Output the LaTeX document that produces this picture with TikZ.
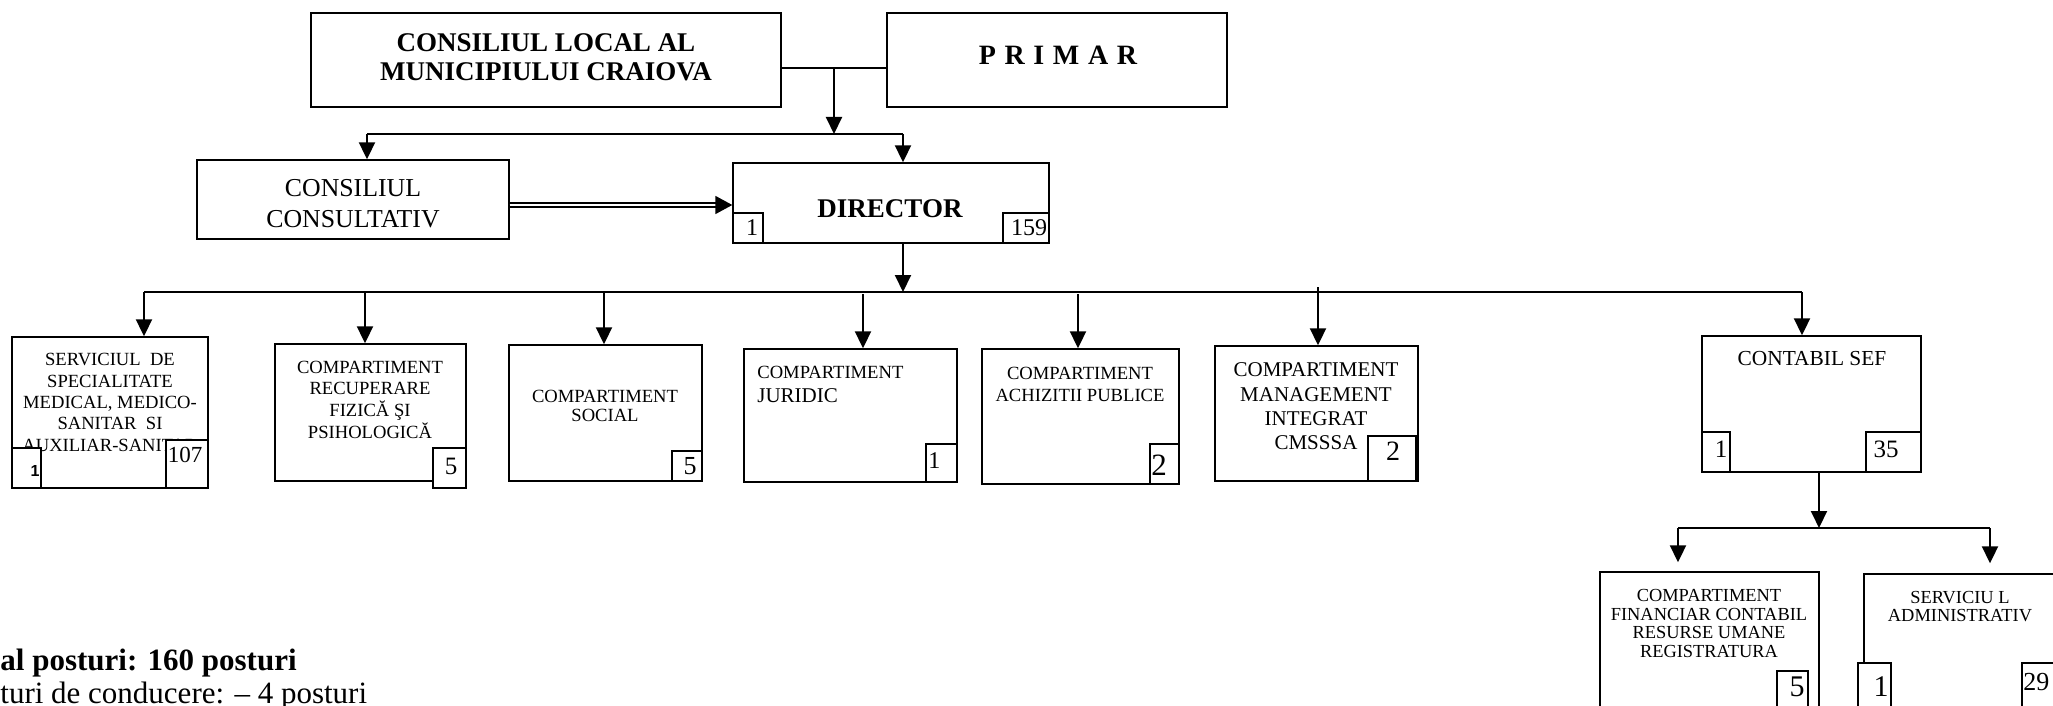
\documentclass[tikz,border=0pt]{standalone}
\usepackage{fontspec}
\setmainfont{Liberation Serif}
\newfontfamily\arialfont{Liberation Sans}
\usetikzlibrary{arrows.meta,fit}
\begin{document}
\begin{tikzpicture}[x=0.5pt,y=-0.5pt]
\tikzset{
  box/.style={draw, line width=0.7pt, inner sep=0pt, fill=white},
  conn/.style={line width=1pt},
  arr/.style={conn, -{Triangle[length=8.5pt,width=8pt]}},
  dbl/.style={line width=0.9pt, double distance=1.4pt, -{Triangle[length=8.5pt,width=9pt]}},
  txt/.style={inner sep=0pt, align=center},
  num/.style={inner sep=0pt},
  fA/.style={font=\fontsize{9.3}{10.7}\selectfont},
}
\useasboundingbox (0,0) rectangle (2053,706);
\clip (0,0) rectangle (2053,706);

% top level
\node[box, fit={(311,13)(781,107)}] (cl) {};
\node[txt, font=\bfseries\fontsize{13.5}{14.5}\selectfont] (clt) at (546,57) {CONSILIUL LOCAL AL\\MUNICIPIULUI CRAIOVA};
\node[box, fit={(887,13)(1227,107)}] (primar) {};
\node[txt, font=\bfseries\fontsize{14}{14}\selectfont] (primart) at (1058,55) {P\hspace{0.31em}R\hspace{0.31em}I\hspace{0.31em}M\hspace{0.31em}A\hspace{0.31em}R};

\node[box, fit={(197,160)(509,239)}] (cons) {};
\node[txt, font=\fontsize{12.9}{15.5}\selectfont] (const) at (353,204) {CONSILIUL\\CONSULTATIV};

\node[box, fit={(733,163)(1049,243)}] (dir) {};
\node[txt, font=\bfseries\fontsize{13.5}{13.5}\selectfont] (dirt) at (890,209) {DIRECTOR};
\node[box, fit={(733,213)(763,243)}] (dira) {};
\node[num, font=\fontsize{12}{12}\selectfont] (dirat) at (752,228) {1};
\node[box, fit={(1003,213)(1049,243)}] (dirb) {};
\node[num, font=\fontsize{12}{12}\selectfont] (dirbt) at (1029,228) {159};

% second row
\node[box, fit={(12,337)(208,488)}] (b1) {};
\node[txt, fA] (b1t) at (110,402.5) {SERVICIUL\ \ DE\\SPECIALITATE\\MEDICAL, MEDICO-\\SANITAR\ \ SI\\AUXILIAR-SANITAR};
\node[box, fit={(12,448)(41,488)}] (b1a) {};
\node[num, font=\arialfont\bfseries\fontsize{8}{8}\selectfont] (b1at) at (35,471) {1};
\node[box, fit={(166,440)(208,488)}] (b1b) {};
\node[num, font=\fontsize{11.5}{11.5}\selectfont] (b1bt) at (185,455) {107};

\node[box, fit={(275,344)(466,481)}] (b2) {};
\node[txt, font=\fontsize{9.3}{10.85}\selectfont] (b2t) at (370,399.5) {COMPARTIMENT\\RECUPERARE\\FIZICĂ ŞI\\PSIHOLOGICĂ};
\node[box, fit={(433,448)(466,488)}] (b2n) {};
\node[num, font=\fontsize{12.5}{12.5}\selectfont] (b2nt) at (451,466) {5};

\node[box, fit={(509,345)(702,481)}] (b3) {};
\node[txt, font=\fontsize{9.3}{9.3}\selectfont] (b3t) at (605,406) {COMPARTIMENT\\SOCIAL};
\node[box, fit={(672,451)(702,481)}] (b3n) {};
\node[num, font=\fontsize{13}{13}\selectfont] (b3nt) at (690,466) {5};

\node[box, fit={(744,349)(957,482)}] (b4) {};
\node[num, anchor=base west, font=\fontsize{9.3}{9.3}\selectfont] (b4t) at (757,378) {COMPARTIMENT};
\node[num, anchor=base west, font=\fontsize{10.5}{10.5}\selectfont] (b4u) at (757,402) {JURIDIC};
\node[box, fit={(926,444)(957,482)}] (b4n) {};
\node[num, anchor=base west, font=\fontsize{12}{12}\selectfont] (b4nt) at (928,468) {1};

\node[box, fit={(982,349)(1179,484)}] (b5) {};
\node[txt, font=\fontsize{9.3}{11}\selectfont] (b5t) at (1080,384) {COMPARTIMENT\\ACHIZITII PUBLICE};
\node[box, fit={(1150,444)(1179,484)}] (b5n) {};
\node[num, anchor=base west, font=\fontsize{15.5}{15.5}\selectfont] (b5nt) at (1151,475) {2};

\node[box, fit={(1215,346)(1418,481)}] (b6) {};
\node[txt, font=\fontsize{10.5}{12.15}\selectfont] (b6t) at (1316,406.5) {COMPARTIMENT\\MANAGEMENT\\INTEGRAT\\CMSSSA};
\node[box, fit={(1368,436)(1416,481)}] (b6n) {};
\node[num, font=\fontsize{14}{14}\selectfont] (b6nt) at (1393,451) {2};

\node[box, fit={(1702,336)(1921,472)}] (b7) {};
\node[txt, font=\fontsize{10.7}{10.7}\selectfont] (b7t) at (1812,359) {CONTABIL SEF};
\node[box, fit={(1702,432)(1730,472)}] (b7a) {};
\node[num, font=\fontsize{12.5}{12.5}\selectfont] (b7at) at (1721,449) {1};
\node[box, fit={(1866,432)(1921,472)}] (b7b) {};
\node[num, font=\fontsize{12.5}{12.5}\selectfont] (b7bt) at (1886,449) {35};

% third row
\node[box, fit={(1600,572)(1819,730)}] (b8) {};
\node[txt, font=\fontsize{9.2}{9.2}\selectfont] (b8t) at (1709,623.5) {COMPARTIMENT\\FINANCIAR CONTABIL\\RESURSE UMANE\\REGISTRATURA};
\node[box, fit={(1777,671)(1808,730)}] (b8n) {};
\node[num, font=\fontsize{15}{15}\selectfont] (b8nt) at (1797,687) {5};

\node[box, fit={(1864,574)(2080,730)}] (b9) {};
\node[txt, font=\fontsize{9.2}{9}\selectfont] (b9t) at (1960,607) {SERVICIU L\\ADMINISTRATIV};
\node[box, fit={(1858,663)(1891,730)}] (b9a) {};
\node[num, font=\fontsize{15}{15}\selectfont] (b9at) at (1881,687) {1};
\node[box, fit={(2022,663)(2080,730)}] (b9b) {};
\node[num, anchor=base west, font=\fontsize{13}{13}\selectfont] (b9bt) at (2023,690) {29};

% connectors
\coordinate (j1) at (834,68);
\coordinate (j2) at (834,134);
\draw[conn] (cl.east |- j1) -- (primar.west |- j1);
\draw[arr] (j1) -- (j2);
\coordinate (h1) at (367,134);
\coordinate (h2) at (903,134);
\draw[conn] (h1) -- (h2);
\draw[arr] (h1) -- (h1 |- cons.north);
\draw[arr] (h2) -- (h2 |- dir.north);
\coordinate (dd) at (0,205);
\draw[dbl] (cons.east |- dd) -- (dir.west |- dd);

\coordinate (m) at (903,292);
\draw[arr] (dir.south -| m) -- (m);
\coordinate (mL) at (144,292);
\coordinate (mR) at (1802,292);
\draw[conn] (mL) -- (mR);
\coordinate (a2) at (365,292);
\coordinate (a3) at (604,292);
\coordinate (a4) at (863,294);
\coordinate (a5) at (1078,294);
\coordinate (a6) at (1318,287);
\draw[arr] (mL) -- (mL |- b1.north);
\draw[arr] (a2) -- (a2 |- b2.north);
\draw[arr] (a3) -- (a3 |- b3.north);
\draw[arr] (a4) -- (a4 |- b4.north);
\draw[arr] (a5) -- (a5 |- b5.north);
\draw[arr] (a6) -- (a6 |- b6.north);
\draw[arr] (mR) -- (mR |- b7.north);

\coordinate (c0) at (1819,528);
\draw[arr] (b7.south -| c0) -- (c0);
\coordinate (cL) at (1678,528);
\coordinate (cR) at (1990,528);
\draw[conn] (cL) -- (cR);
\draw[arr, shorten >=4.5pt] (cL) -- (cL |- b8.north);
\draw[arr, shorten >=5pt] (cR) -- (cR |- b9.north);

% totals
\node[num, anchor=base west, font=\bfseries\fontsize{15.5}{16}\selectfont] (tot) at (0,670) {al posturi: 160 posturi};
\node[num, anchor=base west, font=\fontsize{15.5}{16}\selectfont] (cond) at (0,703) {turi de conducere: – 4 posturi};
\end{tikzpicture}
\end{document}
